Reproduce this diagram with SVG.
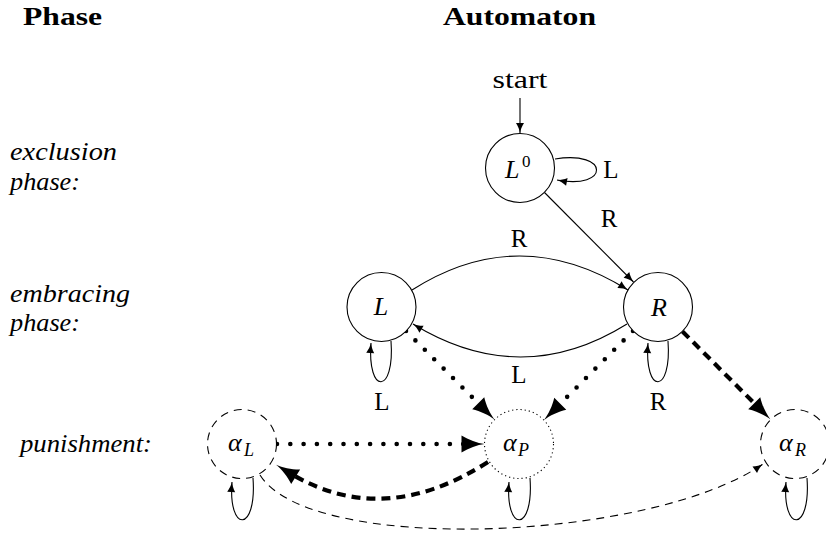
<svg xmlns="http://www.w3.org/2000/svg" width="826" height="535" viewBox="0 0 826 535" font-family="'Liberation Serif', 'Times New Roman', 'DejaVu Serif', serif">
<style>
text{font-family:'Liberation Serif','Times New Roman','DejaVu Serif',serif;fill:#000}
.hd{font-weight:bold;font-size:26px}
.it{font-style:italic;font-size:26px}
.rm{font-size:25px;text-anchor:middle}
.mi{font-style:italic;font-size:26px}
.sub{font-style:italic;font-size:18px}
.sup{font-size:17px}
.node{fill:#fff;stroke:#000;stroke-width:1.1}
.dash{stroke-dasharray:8 6}
.dot{stroke-dasharray:1.2 3}
.thin{fill:none;stroke:#000;stroke-width:1.1}
.tdash{fill:none;stroke:#000;stroke-width:1.1;stroke-dasharray:8 6}
.bdot{fill:none;stroke:#000;stroke-width:4.6;stroke-linecap:round;stroke-dasharray:0 13.3}
.bdash{fill:none;stroke:#000;stroke-width:4.2;stroke-dasharray:9 6}
</style>
<defs>
<marker id="a" markerUnits="userSpaceOnUse" viewBox="-1 -5 12 10" refX="10" refY="0" markerWidth="12" markerHeight="10" orient="auto" overflow="visible">
<path d="M0,-4 C3,-2 7,-0.5 10,0 C7,0.5 3,2 0,4 Z" fill="#000"/>
</marker>
<marker id="b" markerUnits="userSpaceOnUse" viewBox="-1 -9 25 18" refX="9" refY="0" markerWidth="25" markerHeight="18" orient="auto" overflow="visible">
<path d="M0,-8.5 C7,-4 16,-1 23,0 C16,1 7,4 0,8.5 Z" fill="#000"/>
</marker>
</defs>

<g id="headers" font-family="'Liberation Serif', serif">
<text class="hd" x="23" y="25" textLength="79" lengthAdjust="spacingAndGlyphs">Phase</text>
<text class="hd" x="443" y="25" textLength="153" lengthAdjust="spacingAndGlyphs">Automaton</text>
</g>

<g id="phase-labels" font-family="'Liberation Serif', serif">
<text class="it" x="10" y="160" textLength="107" lengthAdjust="spacingAndGlyphs">exclusion</text>
<text class="it" x="10" y="190" textLength="70" lengthAdjust="spacingAndGlyphs">phase:</text>
<text class="it" x="10" y="302" textLength="120" lengthAdjust="spacingAndGlyphs">embracing</text>
<text class="it" x="10" y="331" textLength="70" lengthAdjust="spacingAndGlyphs">phase:</text>
<text class="it" x="20" y="452" textLength="132" lengthAdjust="spacingAndGlyphs">punishment:</text>
</g>

<g id="connectors">
<path class="thin" d="M520,98 L520,133" marker-end="url(#a)"/>
<path class="thin" d="M555,159 C610,150 610,190 557,180" marker-end="url(#a)"/>
<path class="thin" d="M544.5,192.5 L633.5,282" marker-end="url(#a)"/>
<path class="thin" d="M412,290 Q519,222 628,290" marker-end="url(#a)"/>
<path class="thin" d="M627,324 Q521,390 413,324" marker-end="url(#a)"/>
<path class="thin" d="M391,341 C395,395 367,395 371,343" marker-end="url(#a)"/>
<path class="thin" d="M668,341 C672,395 644,395 648,343" marker-end="url(#a)"/>
<path class="thin" d="M253,478 C257,533 228,533 232,482" marker-end="url(#a)"/>
<path class="thin" d="M530,478 C534,533 505,533 509,482" marker-end="url(#a)"/>
<path class="thin" d="M807,478 C811,533 782,533 786,482" marker-end="url(#a)"/>
<path class="bdot" d="M406,331 L484.6,409.6" marker-end="url(#b)"/>
<path class="bdot" d="M633,331 L553.9,410.1" marker-end="url(#b)"/>
<path class="bdot" d="M277,444 L470.5,444" marker-end="url(#b)"/>
<path class="bdash" d="M682.5,331.5 L760.6,409.6" marker-end="url(#b)"/>
<path class="bdash" d="M488,462 Q382,530 288,472" marker-end="url(#b)"/>
<path class="tdash" d="M260,475 C310,555 650,542 763,464" marker-end="url(#a)"/>
</g>

<g id="edge-labels" font-family="'Liberation Serif', serif">
<text class="rm" x="520" y="88" textLength="55" lengthAdjust="spacingAndGlyphs">start</text>
<text class="rm" x="611" y="178">L</text>
<text class="rm" x="609" y="227">R</text>
<text class="rm" x="519" y="247">R</text>
<text class="rm" x="519" y="383">L</text>
<text class="rm" x="382" y="410">L</text>
<text class="rm" x="658" y="410">R</text>
</g>

<g id="node-L0" font-family="'Liberation Serif', serif">
<circle class="node" cx="520" cy="168" r="34.5"/>
<text class="mi" x="505" y="178">L</text>
<text class="sup" x="522" y="167">0</text>
</g>
<g id="node-L" font-family="'Liberation Serif', serif">
<circle class="node" cx="381.5" cy="307" r="34.5"/>
<text class="mi" x="381" y="315" text-anchor="middle">L</text>
</g>
<g id="node-R" font-family="'Liberation Serif', serif">
<circle class="node" cx="658" cy="307" r="34.5"/>
<text class="mi" x="659" y="316" text-anchor="middle">R</text>
</g>
<g id="node-aL" font-family="'Liberation Serif', serif">
<circle class="node dash" cx="242" cy="444" r="34.5"/>
<text class="mi" x="228" y="451">α</text>
<text class="sub" x="244" y="456">L</text>
</g>
<g id="node-aP" font-family="'Liberation Serif', serif">
<circle class="node dot" cx="519" cy="444" r="34.5"/>
<text class="mi" x="503" y="451">α</text>
<text class="sub" x="518" y="456">P</text>
</g>
<g id="node-aR" font-family="'Liberation Serif', serif">
<circle class="node dash" cx="795" cy="444" r="34.5"/>
<text class="mi" x="779" y="451">α</text>
<text class="sub" x="795" y="456">R</text>
</g>
</svg>
